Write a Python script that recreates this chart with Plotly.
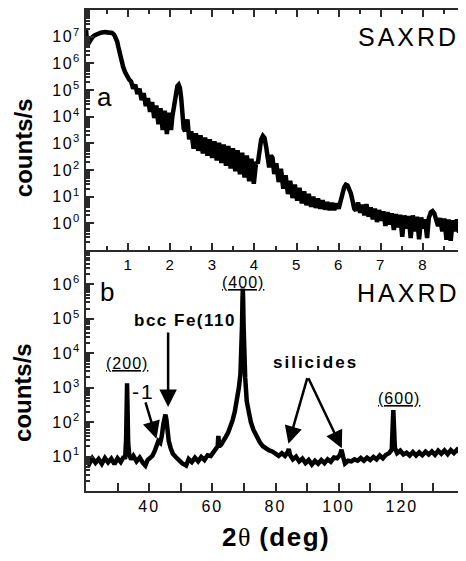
import numpy as np
import plotly.graph_objects as go

# ---------------- data ----------------
# (a) SAXRD : angle in 2theta (deg), log10(counts/s)
saxrd_angle = [
    0.000, 0.012, 0.03, 0.06, 0.10, 0.15, 0.20, 0.27, 0.35, 0.45, 0.55, 0.62, 0.67, 0.71, 0.74, 0.77,
    0.80, 0.84, 0.88, 0.93, 0.98, 1.03,
    1.07, 1.12, 1.17, 1.22, 1.27, 1.32, 1.37, 1.42, 1.47, 1.52, 1.57, 1.62, 1.67, 1.72, 1.77, 1.82,
    1.87, 1.92, 1.97, 2.02, 2.05,
    2.09, 2.13, 2.17, 2.20, 2.23, 2.26, 2.29, 2.32, 2.35, 2.38, 2.41, 2.45,
    2.50, 2.555, 2.61, 2.665, 2.72, 2.775, 2.83, 2.885, 2.94, 2.995, 3.05, 3.105, 3.16, 3.215, 3.27,
    3.325, 3.38, 3.435, 3.49, 3.545, 3.60, 3.655, 3.71, 3.765, 3.82, 3.875, 3.93, 3.985, 4.04,
    4.08, 4.12, 4.16, 4.20, 4.24, 4.28, 4.32, 4.35, 4.39, 4.43, 4.47,
    4.52, 4.575, 4.63, 4.685, 4.74, 4.795, 4.85, 4.905, 4.96, 5.015, 5.07, 5.125, 5.18, 5.235, 5.29,
    5.345, 5.40, 5.455, 5.51, 5.565, 5.62, 5.675, 5.73, 5.785, 5.84, 5.895, 5.95, 6.00,
    6.05, 6.09, 6.13, 6.17, 6.21, 6.25, 6.29, 6.33, 6.37, 6.41,
    6.46, 6.51, 6.56, 6.61, 6.66, 6.71, 6.76, 6.81, 6.86, 6.91, 6.96, 7.01, 7.06, 7.11, 7.16, 7.21,
    7.26, 7.31, 7.36, 7.41, 7.46, 7.51, 7.56, 7.61, 7.66, 7.71, 7.76, 7.81, 7.86, 7.91, 7.96, 8.01,
    8.05, 8.10, 8.14, 8.19, 8.23, 8.27, 8.31, 8.36, 8.41, 8.46, 8.51, 8.56, 8.61, 8.66, 8.71, 8.76,
    8.81, 8.86, 8.91, 8.96, 9.00,
]
saxrd_log_counts = [
    7.28, 7.00, 6.72, 6.75, 6.88, 6.98, 7.05, 7.11, 7.15, 7.17, 7.17, 7.14, 7.07, 6.95, 6.82, 6.60,
    6.35, 6.10, 5.88, 5.66, 5.50, 5.38,
    5.32, 5.05, 5.20, 4.85, 5.05, 4.62, 4.88, 4.40, 4.70, 4.18, 4.55, 3.95, 4.42, 3.72, 4.32, 3.50,
    4.22, 3.35, 4.15, 3.50, 4.00,
    4.40, 4.90, 5.15, 5.20, 5.08, 4.70, 4.10, 3.55, 3.45, 3.85, 3.90, 3.15,
    3.45, 2.80, 3.38, 2.72, 3.30, 2.62, 3.22, 2.54, 3.15, 2.45, 3.08, 2.36, 3.02, 2.26, 2.96,
    2.16, 2.90, 2.06, 2.82, 1.95, 2.74, 1.84, 2.65, 1.72, 2.55, 1.58, 2.42, 1.48, 2.30,
    2.25, 2.80, 3.15, 3.28, 3.20, 2.85, 2.30, 2.10, 2.55, 2.45, 1.85,
    2.25, 1.55, 2.05, 1.30, 1.80, 1.10, 1.60, 0.95, 1.45, 0.85, 1.33, 0.75, 1.20, 0.68, 1.10,
    0.62, 1.00, 0.58, 0.93, 0.55, 0.86, 0.52, 0.80, 0.50, 0.76, 0.50, 0.74, 0.55,
    0.80, 1.10, 1.35, 1.45, 1.42, 1.30, 1.12, 0.85, 0.55, 0.48,
    0.78, 0.40, 0.70, 0.30, 0.72, 0.25, 0.60, 0.15, 0.55, 0.05, 0.50, 0.10, 0.45, -0.10, 0.42, -0.05,
    0.38, -0.25, 0.35, -0.15, 0.32, -0.50, 0.30, -0.20, 0.28, -0.55, 0.30, -0.30, 0.25, -0.60, 0.22, -0.20,
    0.15, -0.55, 0.20, 0.42, 0.46, 0.38, 0.15, -0.10, 0.20, -0.30, 0.18, -0.62, 0.15, -0.65, 0.12, -0.30,
    0.15, -0.35, 0.10, -0.30, 0.05,
]

# (b) HAXRD : 2theta (deg), log10(counts/s)
haxrd_2theta = [
    20, 21, 22, 23, 24, 25, 26, 27, 28, 29, 30, 31, 31.8, 32.4, 32.7, 32.85, 33.0, 33.15, 33.35, 33.7,
    34.3, 35, 36, 37, 38, 38.8, 39.5, 40.3, 41, 41.7, 42.4, 42.9, 43.5, 44.0, 44.5, 44.9, 45.15, 45.45,
    45.8, 46.2, 46.8, 47.5, 48.5, 49.5, 50.5, 51.7, 52.5, 53.5, 54.5, 55.5, 56.5, 57.5, 58.5, 59.5,
    60.5, 61.3, 61.7, 61.9, 62.2, 62.8, 63.6, 64.3, 65.0, 65.7, 66.4, 67.1, 67.8, 68.4, 68.9, 69.2,
    69.4, 69.55, 69.65, 69.75, 69.9, 70.1, 70.4, 70.9, 71.5, 72.2, 73.0, 74.0, 75.0, 76.0, 77.0, 78.0,
    79.0, 80, 81, 82, 83, 83.8, 84.2, 84.6, 85.5, 86.5, 87.5, 88.5, 89.5, 90.5, 91.5, 92.5, 93.5,
    94.5, 95.5, 96.5, 97.5, 98.5, 99.5, 100.4, 100.9, 101.4, 102, 103, 104, 105, 106, 107, 108, 109,
    110, 111, 112, 113, 114, 115, 116, 116.8, 117.1, 117.3, 117.5, 117.8, 118.5, 119.5, 120.5, 121.5,
    122.5, 123.5, 124.5, 125.5, 126.5, 127.5, 128.5, 129.5, 130.5, 131.5, 132.5, 133.5, 134.5, 135.5,
    136.5, 137.5, 138.5, 139.5, 140,
]
haxrd_log_counts = [
    0.90, 0.78, 0.95, 0.82, 0.93, 0.79, 0.96, 0.83, 0.94, 0.78, 0.95, 0.84, 0.97, 0.98, 1.50, 2.60, 3.13, 2.40, 1.40, 1.05,
    0.92, 1.02, 0.86, 0.97, 0.82, 0.74, 0.90, 0.95, 1.02, 1.15, 1.38, 1.45, 1.40, 1.60, 1.95, 2.18, 2.22, 2.08,
    1.75, 1.45, 1.25, 1.08, 0.98, 0.88, 0.80, 0.74, 0.93, 0.84, 0.97, 0.86, 0.99, 0.90, 1.04, 1.02,
    1.15, 1.22, 1.30, 1.60, 1.30, 1.35, 1.45, 1.58, 1.70, 1.85, 2.05, 2.30, 2.65, 3.00, 3.40, 4.00,
    4.80, 5.60, 5.88, 5.60, 4.80, 4.00, 3.30, 2.60, 2.25, 2.00, 1.78, 1.58, 1.42, 1.30, 1.22, 1.18,
    1.15, 1.10, 1.02, 1.10, 1.02, 1.12, 1.22, 1.05, 0.92, 1.00, 0.86, 0.94, 0.81, 0.90, 0.77, 0.88, 0.79,
    0.90, 0.81, 0.92, 0.85, 0.97, 0.95, 1.05, 1.20, 1.00, 0.80, 0.88, 0.86, 0.92, 0.88, 0.96, 0.88, 0.97,
    0.90, 0.99, 0.92, 1.03, 0.95, 1.05, 1.10, 1.20, 1.90, 2.35, 1.90, 1.25, 1.10, 1.17, 1.06, 1.11,
    1.03, 1.13, 1.03, 1.12, 1.04, 1.14, 1.06, 1.15, 1.05, 1.17, 1.08, 1.18, 1.07, 1.19,
    1.10, 1.20, 1.12, 1.21, 1.18,
]

saxrd_ticks = [1, 2, 3, 4, 5, 6, 7, 8]
haxrd_ticks = [40, 60, 80, 100, 120]
saxrd_decades = [0, 1, 2, 3, 4, 5, 6, 7]
haxrd_decades = [1, 2, 3, 4, 5, 6]

# ---------------- figure ----------------
FONT = "Liberation Sans, Arial, sans-serif"
AX = "#2a2a2a"

saxrd_counts = 10 ** np.array(saxrd_log_counts)
haxrd_counts = 10 ** np.array(haxrd_log_counts)

fig = go.Figure()
fig.add_trace(go.Scatter(x=saxrd_angle, y=saxrd_counts, mode="lines",
                         line=dict(color="black", width=4.5), xaxis="x", yaxis="y",
                         showlegend=False))
fig.add_trace(go.Scatter(x=haxrd_2theta, y=haxrd_counts, mode="lines",
                         line=dict(color="black", width=4.5), xaxis="x2", yaxis="y2",
                         showlegend=False))


def minor_vals(lo, hi):
    return [m * 10 ** k for k in range(lo, hi) for m in range(2, 10)]


def sup(k):
    return '<span style="letter-spacing:1.5px">10<sup>%d</sup></span>' % k


def spaced(v, px):
    return '<span style="letter-spacing:%spx">%s</span>' % (px, v)


common_axis = dict(showline=True, linecolor=AX, linewidth=2, ticks="inside",
                   tickcolor=AX, tickwidth=1.5, showgrid=False, zeroline=False)

# The page body adds an 8 px margin, so the figure is 8 px smaller and shifted.
fig.update_layout(
    width=458, height=553,
    margin=dict(l=78, r=1, t=2, b=70),
    paper_bgcolor="white", plot_bgcolor="white",
    font=dict(family=FONT, color="black"),
    xaxis=dict(**common_axis, domain=[0, 1], anchor="y", range=[0, 9],
               tickmode="array", tickvals=saxrd_ticks,
               ticktext=[spaced(v, 1) for v in saxrd_ticks],
               tickfont=dict(family=FONT, size=15, color="black"),
               ticklen=7, mirror="ticks",
               minor=dict(tickmode="linear", tick0=0, dtick=0.5, ticks="inside",
                          ticklen=4, tickcolor=AX)),
    yaxis=dict(**common_axis, domain=[0.501, 1], anchor="x", type="log", range=[-1, 8],
               tickmode="array", tickvals=[10 ** k for k in saxrd_decades],
               ticktext=[sup(k) for k in saxrd_decades], ticklen=8,
               tickfont=dict(family=FONT, size=16, color="black"),
               minor=dict(tickmode="array", tickvals=minor_vals(-1, 8), ticks="inside",
                          ticklen=4, tickcolor=AX)),
    xaxis2=dict(**common_axis, domain=[0, 1], anchor="y2", range=[20, 140],
                tickmode="array", tickvals=haxrd_ticks,
                ticktext=[spaced(v, 2) for v in haxrd_ticks],
                tickfont=dict(family=FONT, size=16, color="black"),
                ticklen=8,
                minor=dict(tickmode="linear", tick0=0, dtick=10, ticks="inside",
                           ticklen=8, tickcolor=AX)),
    yaxis2=dict(**common_axis, domain=[0, 0.501], anchor="x2", type="log", range=[0, 7],
                tickmode="array", tickvals=[10 ** k for k in haxrd_decades],
                ticktext=[sup(k) for k in haxrd_decades], ticklen=8,
                tickfont=dict(family=FONT, size=16, color="black"),
                minor=dict(tickmode="array", tickvals=minor_vals(0, 7), ticks="inside",
                           ticklen=4, tickcolor=AX)),
)

ann = []
centered = dict(xanchor="center", yanchor="middle", showarrow=False)
# axis titles
ann.append(dict(text="<b>counts/s</b>", xref="paper", yref="paper", x=-0.166, y=0.713,
                textangle=-90, font=dict(size=24), **centered))
ann.append(dict(text="<b>counts/s</b>", xref="paper", yref="paper", x=-0.166, y=0.204,
                textangle=-90, font=dict(size=24), **centered))
ann.append(dict(text='<b><span style="letter-spacing:1.5px">2</span></b>'
                     '<span style="font-family:Liberation Serif">θ</span>'
                     '<b><span style="letter-spacing:1.5px"> (deg)</span></b>',
                xref="paper", yref="paper", x=0.501, y=-0.0956, font=dict(size=26), **centered))
# panel labels
ann.append(dict(text="a", xref="x", yref="y", x=0.445, y=4.72, font=dict(size=26), **centered))
ann.append(dict(text=spaced("SAXRD", 3), xref="x", yref="y",
                x=7.65, y=6.99, font=dict(size=25), **centered))
ann.append(dict(text="b", xref="x2", yref="y2", x=26.5, y=5.78, font=dict(size=26), **centered))
ann.append(dict(text=spaced("HAXRD", 3), xref="x2", yref="y2",
                x=121.96, y=5.74, font=dict(size=25), **centered))
# peak labels
ann.append(dict(text="<u>%s</u>" % spaced("(200)", 1), xref="x2", yref="y2",
                x=33.0, y=3.71, font=dict(size=16), **centered))
ann.append(dict(text="<u>%s</u>" % spaced("(400)", 1), xref="x2", yref="y2",
                x=69.7, y=6.07, font=dict(size=16), **centered))
ann.append(dict(text="<u>%s</u>" % spaced("(600)", 1), xref="x2", yref="y2",
                x=119.0, y=2.70, font=dict(size=16), **centered))
ann.append(dict(text=spaced("-1", 2), xref="x2", yref="y2",
                x=38.2, y=2.89, font=dict(size=21), **centered))
ann.append(dict(text="<b>%s</b>" % spaced("bcc Fe(110", 1.5), xref="x2", yref="y2",
                x=51.3, y=4.94, font=dict(size=17), **centered))
ann.append(dict(text="<b>%s</b>" % spaced("silicides", 2), xref="x2", yref="y2",
                x=92.8, y=3.72, font=dict(size=17), **centered))
# arrows
arrow_style = dict(text="", showarrow=True, arrowhead=2, arrowsize=1.4, arrowwidth=2.5,
                   arrowcolor="black", xref="x2", yref="y2", axref="x2", ayref="y2")
ann.append(dict(**arrow_style, x=46.0, y=2.44, ax=46.0, ay=4.65))
ann.append(dict(**arrow_style, x=42.3, y=1.52, ax=38.7, ay=2.62))
ann.append(dict(**arrow_style, x=84.1, y=1.37, ax=90.2, ay=3.32))
ann.append(dict(**arrow_style, x=101.0, y=1.24, ax=90.2, ay=3.32))
fig.update_layout(annotations=ann)

fig.write_html("out.html")
